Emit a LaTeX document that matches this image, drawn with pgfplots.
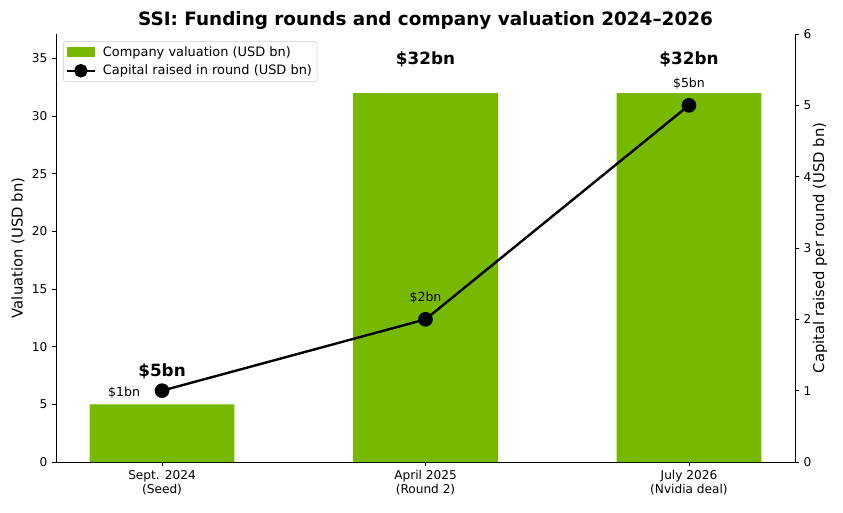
\documentclass[border=0pt]{standalone}
\usepackage{pgfplots}
\pgfplotsset{compat=1.18}
\usepackage{fontspec}
\setmainfont{DejaVu Sans}
\definecolor{nvgreen}{HTML}{76B900}
\newcommand\tickfont{\fontsize{9.1pt}{10.5pt}\selectfont}
\newcommand\legfont{\fontsize{9.7pt}{11pt}\selectfont}
\newcommand\smallfont{\fontsize{9.4pt}{11pt}\selectfont}
\newcommand\labfont{\fontsize{11.1pt}{13pt}\selectfont}
\newcommand\annfont{\fontsize{12.6pt}{14pt}\selectfont\bfseries}
\newcommand\titfont{\fontsize{13.8pt}{16pt}\selectfont\bfseries}
\begin{document}
\begin{tikzpicture}
\pgfplotsset{
  common/.style={
    scale only axis, width=554.25pt, height=321pt,
    xmin=-0.4025, xmax=2.4025,
    tick align=outside, major tick length=3pt,
    /pgf/number format/assume math mode=true,
    axis line style={-, line width=0.6pt},
    tick style={line width=0.6pt, black},
    ticklabel style={font=\tickfont},
  }
}
\begin{axis}[common, name=main,
  ymin=0, ymax=37.12,
  axis x line*=bottom, axis y line*=left,
  xtick={0,1,2},
  xticklabels={{Sept. 2024\\(Seed)},{April 2025\\(Round 2)},{July 2026\\(Nvidia deal)}},
  xticklabel style={align=center},
  ytick={0,5,10,15,20,25,30,35},
  clip=false,
]
\addplot[ybar, bar width=0.55, bar shift=0pt, fill=nvgreen, draw=none] coordinates {(0,5) (1,32) (2,32)};
\node[font=\annfont] at (axis cs:0,7.9) {\$5bn};
\node[font=\annfont] at (axis cs:1,34.9) {\$32bn};
\node[font=\annfont] at (axis cs:2,34.9) {\$32bn};
\node[rotate=90, font=\labfont] at ([xshift=-28.5pt]rel axis cs:0,0.5) {Valuation (USD bn)};
\node[font=\titfont] at ([yshift=10pt]rel axis cs:0.5,1) {SSI: Funding rounds and company valuation 2024–2026};
\end{axis}
\begin{axis}[common,
  ymin=0, ymax=6,
  axis y line*=right, axis x line=none,
  ytick={0,1,2,3,4,5,6},
  clip=false,
  legend style={at={(rel axis cs:0,1)}, anchor=north west, xshift=5.25pt, yshift=-5.25pt,
    draw=black!20, rounded corners=2pt, font=\legfont, fill=white,
    inner sep=1.8pt, row sep=1pt},
  legend cell align=left,
]
\addlegendimage{legend image code/.code={\fill[nvgreen, draw=none, sharp corners] (0pt,-3.6pt) rectangle (21pt,3.6pt); \path[draw=none, fill=none] (0pt,0pt) -- (25pt,0pt);}}
\addlegendentry{Company valuation (USD bn)}
\addplot[black, line width=1.8pt, mark=*, mark size=4.6pt,
  legend image code/.code={\draw[black, line width=1.8pt, sharp corners] (0pt,0pt) -- (21pt,0pt); \fill[black] (10.5pt,0pt) circle (4.2pt); \path[draw=none, fill=none] (0pt,0pt) -- (25pt,0pt);}]
  coordinates {(0,1) (1,2) (2,5)};
\addlegendentry{Capital raised in round (USD bn)}
\node[font=\smallfont, anchor=east] at ([xshift=-13pt, yshift=-1.2pt]axis cs:0,1) {\$1bn};
\node[font=\smallfont] at (axis cs:1,2.3) {\$2bn};
\node[font=\smallfont] at (axis cs:2,5.3) {\$5bn};
\node[rotate=90, font=\labfont] at ([xshift=18.75pt]rel axis cs:1,0.5) {Capital raised per round (USD bn)};
\end{axis}
\path (main.south west) ++(-42pt,-37.5pt) rectangle ++(632.25pt,384pt);
\end{tikzpicture}
\end{document}
